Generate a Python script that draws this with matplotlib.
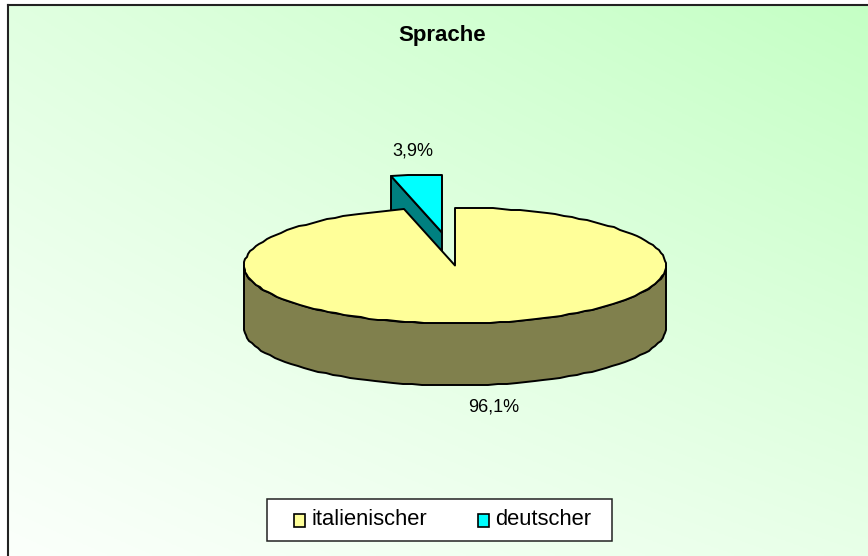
"""Sprache: exploded 3D-style pie drawn by hand on a pixel-sized axes."""

import numpy as np
import matplotlib
matplotlib.use("Agg")
import matplotlib.pyplot as plt
from matplotlib.patches import Polygon, Rectangle

plt.rcParams["font.family"] = ["Liberation Sans", "DejaVu Sans"]

TITLE = "Sprache"
categories = ["italienischer", "deutscher"]
shares = [96.1, 3.9]
labels = ["96,1%", "3,9%"]

TOP_COLORS = ["#FFFF99", "#00FFFF"]
WALL_COLORS = ["#80804D", "#008080"]

W, H = 868, 556
CX, CY = 455, 265.5
RX, RY = 211, 58
DEPTH = 62
EXPLODE = (-13, -33)
LEFT, TOP = 8, 4.5


def rim(a0, a1, n=60):
    """Points on the top ellipse, angles in degrees clockwise from 12 o'clock.
    Rounded to whole pixels, the reference outline is stepped the same way."""
    t = np.radians(np.linspace(a0, a1, n))
    return np.round(np.column_stack([CX + RX * np.sin(t), CY - RY * np.cos(t)]))


def add_poly(ax, pts, color, z):
    ax.add_patch(Polygon(pts, closed=True, facecolor=color, edgecolor="black",
                         linewidth=1.4, joinstyle="round", zorder=z))


def background(ax):
    # green level at the four corners of the chart area, blended across it
    yy, xx = np.mgrid[0:1:200j, 0:1:300j]
    g = ((1 - xx) * (1 - yy) * 0.88 + xx * (1 - yy) * 0.77
         + (1 - xx) * yy * 0.985 + xx * yy * 0.91)
    img = np.dstack([g, np.ones_like(g), g])
    ax.imshow(img, extent=(LEFT, W, H, TOP), aspect="auto", zorder=0)


fig = plt.figure(figsize=(W / 100, H / 100), dpi=100)
ax = fig.add_axes([0, 0, 1, 1])
background(ax)
ax.set_xlim(0, W)
ax.set_ylim(H, 0)
ax.axis("off")

# chart frame runs off the right and bottom of the picture
ax.plot([LEFT, LEFT], [H, TOP], color="#222222", linewidth=1.5, zorder=1)
ax.plot([LEFT, W], [TOP, TOP], color="#222222", linewidth=1.5, zorder=1)

# the small slice sits at the end of the circle, the big one starts at 12 o'clock
main_end = shares[0] / sum(shares) * 360
tip = np.array([CX, CY])
off = np.array(EXPLODE)

# exploded slice, drawn first because the main top covers its lower part
start_pt = rim(main_end, main_end, 1)[0] + off
tip_off = tip + off
down = np.array([0, DEPTH])
add_poly(ax, [start_pt, tip_off, tip_off + down, start_pt + down], WALL_COLORS[1], 2)
add_poly(ax, np.vstack([[tip_off], rim(main_end, 360, 4) + off]), TOP_COLORS[1], 3)

# wall of the main slice: only the front half of the rim is visible
front = rim(90, 270, 70)
wall = np.vstack([front, (front + down)[::-1]])
add_poly(ax, wall, WALL_COLORS[0], 4)
add_poly(ax, np.vstack([[tip], rim(0, main_end, 135)]), TOP_COLORS[0], 5)

ax.text(493.5, 407, labels[0], ha="center", va="center", fontsize=13, zorder=6)
ax.text(412.5, 151.5, labels[1], ha="center", va="center", fontsize=13, zorder=6)
ax.text(442.5, 36, TITLE, ha="center", va="center", fontsize=16,
        fontweight="bold", zorder=6)

# legend box
ax.add_patch(Rectangle((267, 499), 344.5, 42, facecolor="white", edgecolor="#222222",
                       linewidth=1.1, zorder=6))
for name, color, sx in zip(categories, TOP_COLORS, [293.5, 477.5]):
    ax.add_patch(Rectangle((sx, 513.5), 11.5, 13, facecolor=color, edgecolor="black",
                           linewidth=1.2, zorder=7))
    ax.text(sx + 18, 519.5, name, ha="left", va="center", fontsize=15.8, zorder=7)

fig.savefig("out.png", dpi=100)
